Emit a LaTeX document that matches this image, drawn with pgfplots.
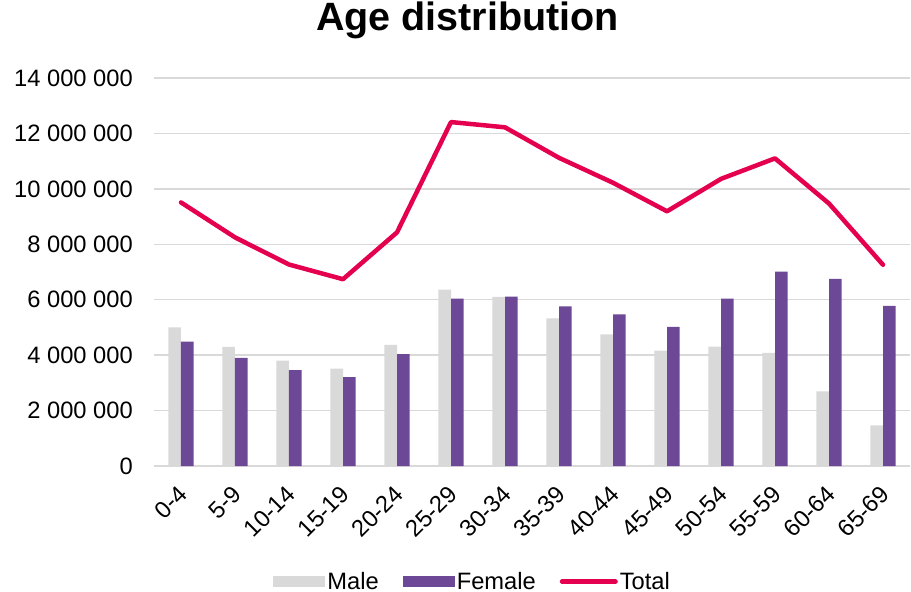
\documentclass[border=0pt]{standalone}
\usepackage{pgfplots}
\pgfplotsset{compat=1.18}
\usepackage{fontspec}
\setmainfont{Liberation Sans}
\definecolor{malegray}{RGB}{217,217,217}
\definecolor{femalepurple}{RGB}{109,72,151}
\definecolor{totalred}{RGB}{228,0,78}
\definecolor{gridgray}{RGB}{217,217,217}
\begin{document}
\begin{tikzpicture}
\begin{axis}[
  name=ax,
  scale only axis,
  width=756bp, height=388bp,
  xmin=-0.5, xmax=13.5,
  ymin=0, ymax=14000000,
  xtick={0,...,13},
  xticklabels={0-4,5-9,10-14,15-19,20-24,25-29,30-34,35-39,40-44,45-49,50-54,55-59,60-64,65-69},
  ytick={0,2000000,4000000,6000000,8000000,10000000,12000000,14000000},
  yticklabels={0,2 000 000,4 000 000,6 000 000,8 000 000,10 000 000,12 000 000,14 000 000},
  /pgf/number format/assume math mode=true,
  scaled y ticks=false,
  axis line style={draw=none},
  major tick length=0pt,
  ymajorgrids,
  major grid style={color=gridgray, line width=1.3bp},
  tick label style={font=\fontsize{23.7bp}{28bp}\selectfont, text=black},
  yticklabel style={anchor=east, inner sep=0pt, xshift=-21bp},
  xticklabel style={inner sep=0pt, xshift=2bp, yshift=-24bp, rotate=45, anchor=east},
  title={\bfseries Age distribution},
  title style={font=\fontsize{39.5bp}{46bp}\selectfont, at={(axis description cs:0.4147,1.1082)}, anchor=base, yshift=0pt},
  legend columns=3,
  legend style={draw=none, fill=none, at={(axis description cs:0.4215,-0.298)}, anchor=center,
    font=\fontsize{23.7bp}{28bp}\selectfont,
    /tikz/every even column/.append style={column sep=22bp},
    cells={anchor=west, inner xsep=4.5bp}},
]
\addplot[ybar, bar width=12.7bp, bar shift=-6.35bp, fill=malegray, draw=none,
  legend image code/.code={\fill[malegray] (0bp,-5.65bp) rectangle (52bp,5.65bp);}]
  coordinates {(0,5000000) (1,4300000) (2,3800000) (3,3510000) (4,4370000) (5,6360000) (6,6100000) (7,5330000) (8,4750000) (9,4160000) (10,4310000) (11,4080000) (12,2690000) (13,1470000)};
\addlegendentry{Male}
\addplot[ybar, bar width=12.7bp, bar shift=6.35bp, fill=femalepurple, draw=none,
  legend image code/.code={\fill[femalepurple] (0bp,-5.65bp) rectangle (52bp,5.65bp);}]
  coordinates {(0,4490000) (1,3900000) (2,3460000) (3,3210000) (4,4040000) (5,6040000) (6,6110000) (7,5760000) (8,5470000) (9,5020000) (10,6040000) (11,7010000) (12,6750000) (13,5780000)};
\addlegendentry{Female}
\addplot[color=totalred, line width=4.5bp, line join=round, line cap=round, mark=none,
  legend image code/.code={\draw[totalred, line width=5bp, line cap=round] (1bp,0bp) -- (54bp,0bp);}]
  coordinates {(0,9510000) (1,8250000) (2,7270000) (3,6740000) (4,8430000) (5,12410000) (6,12220000) (7,11120000) (8,10220000) (9,9190000) (10,10360000) (11,11100000) (12,9470000) (13,7260000)};
\addlegendentry{Total}
\end{axis}
\pgfresetboundingbox
\path[use as bounding box] ([shift={(-154bp,-126bp)}]ax.south west) rectangle ([shift={(757bp,466bp)}]ax.south west);
\end{tikzpicture}
\end{document}
